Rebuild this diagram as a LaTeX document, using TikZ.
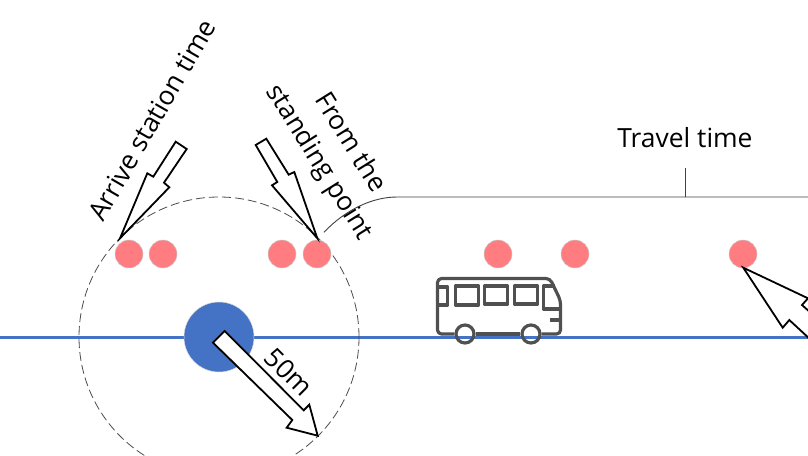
\documentclass[tikz,border=0pt]{standalone}
\usepackage{xcolor}
\usepackage{fontspec}
\setmainfont{Open Sans}
\usetikzlibrary{positioning}
\definecolor{stopred}{HTML}{FF7C80}
\definecolor{lineblue}{HTML}{4472C4}
\definecolor{busgray}{HTML}{505050}

\begin{document}
\begin{tikzpicture}[
    x=1pt, y=-1pt,
    stopdot/.style={circle, draw=black!20, line width=0.5pt, fill=stopred,
                 minimum size=28pt, inner sep=0pt},
    hub/.style={circle, draw=black!15, line width=0.5pt, fill=lineblue,
                minimum size=70pt, inner sep=0pt},
    rangering/.style={circle, draw=black!70, line width=0.8pt, dash pattern=on 9pt off 4pt,
                  minimum size=280pt, inner sep=0pt},
    callout/.style={draw=black, fill=white, line width=1.8pt, line join=miter},
    buspart/.style={draw=busgray, line width=3.2pt, line join=round},
    wheel/.style={circle, draw=busgray, line width=3.2pt, minimum size=18pt, inner sep=0pt},
    textlabel/.style={font=\fontsize{26.4}{36.5}\selectfont, align=center, inner sep=0pt},
    bracket/.style={draw=black!75, line width=0.9pt}
]
\clip (0,0) rectangle (808,455);
\useasboundingbox (0,0) rectangle (808,455);

% ── Road ──
\coordinate (roadstart) at (0,337);
\coordinate (roadend) at (808,337);
\draw[lineblue, line width=3pt] (roadstart) -- (roadend);

% ── Station and range ──
\node[hub] (station) at (219,337) {};
\node[rangering] (circle50) at (station) {};

% ── Passengers ──
\node[stopdot] (p1) at (129,254) {};
\node[stopdot] (p2) at (163,254) {};
\node[stopdot] (p3) at (282,254) {};
\node[stopdot] (p4) at (317,254) {};
\node[stopdot] (p5) at (498,254) {};
\node[stopdot] (p6) at (575,254) {};
\node[stopdot] (p7) at (743,254) {};

% ── Callouts ──
\draw[callout] (120,238.3) -- (147.3,173.3) -- (153.3,176.7) -- (175.7,141.7)
    -- (186.7,149) -- (164,182.7) -- (169.3,187.3) -- cycle;
\draw[callout] (317.3,238.3) -- (294.3,172) -- (288.7,174.7) -- (266.3,138.7)
    -- (255.7,145) -- (277.3,182) -- (272,185.3) -- cycle;
\draw[callout] (213,342.7) -- (224.7,331) -- (303.7,410.3) -- (309.3,404.7)
    -- (317.7,435.7) -- (286.7,427.7) -- (292.3,420) -- cycle;
\draw[callout] (743.3,267.7) -- (782.7,327.7) -- (789.3,320) -- (825,353)
    -- (830,330) -- (802,305) -- (808,298.3) -- cycle;

% ── Labels ──
\node[textlabel, rotate=60] (arrive) at (152,120) {Arrive station time};
\node[textlabel, rotate=-58] (standing) at (334,153) {From the\\standing point};
\node[textlabel, rotate=-45] (radius) at (289,372) {50m};
\node[textlabel] (travel) at (685,138) {Travel time};

% ── Travel time bracket ──
\coordinate (bracketstart) at (324,232.3);
\coordinate (bracketbend) at (397,197);
\coordinate (bracketend) at (808,197);
\coordinate (bracketmid) at (685,197);
\coordinate (brackettop) at (685,168);
\draw[bracket] (bracketstart) .. controls (345,210) and (372,197) .. (bracketbend) -- (bracketend);
\draw[bracket] (bracketmid) -- (brackettop);

% ── Bus ──
\node[wheel] (wheelback) at (465,334) {};
\node[wheel] (wheelfront) at (531,334) {};
\draw[buspart, rounded corners=4pt] (wheelback.west) -- (437.5,334) -- (437.5,278.5) -- (550,278.5)
    -- (560.5,300.5) -- (560.5,334) -- (wheelfront.east);
\draw[buspart] (wheelback.east) -- (wheelfront.west);
\draw[buspart] (437.5,287) -- (447.5,287) -- (447.5,305) -- (437.5,305);
\draw[buspart] (455.5,286) rectangle (478.5,305);
\draw[buspart] (484.5,286) rectangle (507.5,304);
\draw[buspart] (514.5,286) rectangle (537.5,304);
\draw[buspart] (555,286) -- (543.5,286) -- (543.5,309) -- (560.5,309);
\draw[buspart] (549.5,320) -- (560.5,320);

\end{tikzpicture}
\end{document}
